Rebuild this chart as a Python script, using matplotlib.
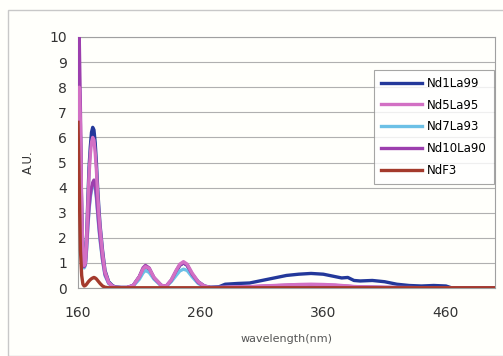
import matplotlib
matplotlib.use("Agg")
import matplotlib.pyplot as plt
from matplotlib.patches import Rectangle

wavelength = [160,161,162,163,164,165,166,167,168,169,170,171,172,173,174,175,176,177,178,180,182,185,188,190,195,200,205,210,213,215,218,222,228,232,236,240,243,246,249,253,258,263,268,275,280,290,300,310,320,330,340,350,360,370,375,380,385,390,400,410,420,430,440,450,460,465,480,500]

nd1la99 = [5.0,7.0,6.0,3.0,1.5,0.9,1.0,2.0,3.5,4.8,5.6,6.2,6.4,6.3,5.8,5.0,4.0,3.2,2.5,1.5,0.7,0.25,0.1,0.05,0.02,0.02,0.1,0.45,0.75,0.85,0.75,0.4,0.1,0.08,0.3,0.65,0.9,1.0,0.9,0.55,0.25,0.08,0.03,0.05,0.15,0.18,0.2,0.3,0.4,0.5,0.55,0.58,0.55,0.45,0.4,0.42,0.3,0.28,0.3,0.25,0.15,0.1,0.08,0.1,0.08,0.0,0.0,0.0]
nd5la95 = [5.5,8.0,6.5,3.0,1.4,0.9,1.0,1.9,3.3,4.5,5.3,5.8,6.0,5.9,5.4,4.7,3.8,3.0,2.4,1.4,0.65,0.22,0.08,0.03,0.02,0.02,0.1,0.45,0.75,0.85,0.78,0.42,0.1,0.08,0.32,0.7,0.95,1.05,0.95,0.6,0.25,0.08,0.02,0.02,0.03,0.04,0.05,0.08,0.1,0.12,0.14,0.15,0.14,0.12,0.1,0.08,0.06,0.05,0.04,0.03,0.02,0.02,0.01,0.01,0.01,0.0,0.0,0.0]
nd7la93 = [6.0,8.0,6.0,2.8,1.2,0.8,0.9,1.5,2.4,3.1,3.6,3.9,4.1,4.2,4.0,3.6,3.0,2.4,1.9,1.1,0.5,0.18,0.07,0.03,0.02,0.02,0.08,0.35,0.6,0.7,0.62,0.35,0.08,0.07,0.25,0.5,0.68,0.75,0.7,0.45,0.18,0.05,0.02,0.02,0.02,0.03,0.04,0.05,0.06,0.07,0.08,0.08,0.08,0.07,0.06,0.05,0.04,0.03,0.03,0.02,0.02,0.01,0.01,0.01,0.01,0.0,0.0,0.0]
nd10la90 = [7.0,10.0,7.0,3.0,1.3,0.85,0.95,1.6,2.5,3.2,3.7,4.0,4.2,4.3,4.1,3.7,3.1,2.5,2.0,1.15,0.55,0.2,0.08,0.03,0.02,0.02,0.1,0.45,0.8,0.9,0.8,0.4,0.1,0.08,0.3,0.68,0.92,1.0,0.92,0.55,0.22,0.07,0.02,0.02,0.03,0.04,0.05,0.07,0.09,0.11,0.13,0.13,0.12,0.1,0.08,0.07,0.05,0.04,0.03,0.02,0.02,0.01,0.01,0.01,0.01,0.0,0.0,0.0]
ndf3 = [6.6,4.0,1.5,0.5,0.15,0.08,0.1,0.15,0.22,0.28,0.33,0.37,0.4,0.42,0.4,0.36,0.3,0.24,0.18,0.08,0.03,0.01,0.01,0.01,0.01,0.01,0.01,0.01,0.01,0.01,0.01,0.01,0.01,0.01,0.01,0.01,0.01,0.01,0.01,0.01,0.01,0.01,0.01,0.01,0.01,0.01,0.01,0.01,0.01,0.01,0.01,0.01,0.01,0.01,0.01,0.01,0.01,0.01,0.01,0.01,0.01,0.01,0.01,0.01,0.01,0.01,0.01,0.01]

series_names = ["Nd1La99", "Nd5La95", "Nd7La93", "Nd10La90", "NdF3"]
series_values = [nd1la99, nd5la95, nd7la93, nd10la90, ndf3]
colors = ["#23389a", "#d270c4", "#6cc0e6", "#9c3fae", "#a43a2c"]
z_orders = [3.0, 3.4, 3.2, 3.3, 3.5]
x_ticks = [160, 260, 360, 460]
y_ticks = list(range(0, 11))

plt.rcParams['font.family'] = ['DejaVu Sans']
fig = plt.figure(figsize=(5.03, 3.56), dpi=100, facecolor="#fffffb")
fig.patches.append(Rectangle((8/503, 0), 1, 346/356, transform=fig.transFigure,
                             fill=False, edgecolor="#c8c8c8", linewidth=1.0))
ax = fig.add_axes([78/503, 68/356, 417/503, 251/356])
ax.set_facecolor("#fffffb")

for i in range(5):
    ax.plot(wavelength, series_values[i], color=colors[i], linewidth=2.4,
            label=series_names[i], zorder=z_orders[i])

ax.set_xlim(160, 500)
ax.set_ylim(0, 10)
ax.set_xticks(x_ticks)
ax.set_yticks(y_ticks)
ax.grid(axis='y', color="#b0b0b0", linewidth=0.8)
ax.grid(axis='x', visible=False)
for s in ax.spines.values():
    s.set_color("#a0a0a0")
    s.set_linewidth(0.8)
ax.tick_params(axis='both', length=0, labelsize=10, colors="#333333", pad=8)
ax.tick_params(axis='x', pad=13)
ax.set_xlabel("wavelength(nm)", fontsize=8, color="#555555", labelpad=10)
ax.set_ylabel("A.U.", fontsize=8.5, color="#333333", labelpad=10)

leg = ax.legend(loc='upper left', bbox_to_anchor=(0.71, 0.87), fontsize=8.5,
                frameon=True, fancybox=False, edgecolor="#909090",
                handlelength=3.5, borderpad=0.6, labelspacing=0.75,
                handletextpad=0.4, borderaxespad=0)
leg.get_frame().set_linewidth(0.8)
for line in leg.get_lines():
    line.set_linewidth(2.4)

fig.savefig("out.png", dpi=100, facecolor=fig.get_facecolor())
